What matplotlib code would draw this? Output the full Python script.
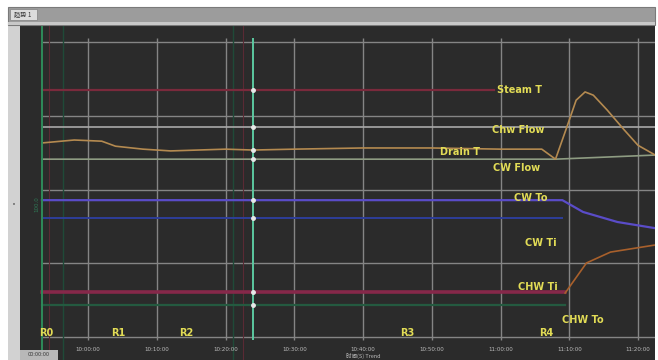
import matplotlib
matplotlib.use('Agg')
import matplotlib.pyplot as plt
from matplotlib.patches import Rectangle
import numpy as np

# time in minutes after 10:00:00, values in % of span
grid_t = [0, 10, 20, 30, 40, 50, 60, 70, 80]
time_labels = ['10:00:00', '10:10:00', '10:20:00', '10:30:00', '10:40:00',
               '10:50:00', '11:00:00', '11:10:00', '11:20:00']
grid_y = [0, 25, 50, 75, 100]

steam_t = [-6.7, 59]
steam_v = [83.7, 83.7]

chw_flow_t = [-6.7, 82.5]
chw_flow_v = [71.2, 71.2]

drain_t = [-6.7, -2, 2, 4, 8, 12, 16, 20, 24, 30, 40, 50, 60, 66,
           68, 69.5, 71, 72.3, 73.5, 75.5, 78, 80, 82.5]
drain_v = [65.8, 66.8, 66.4, 64.7, 63.7, 63.1, 63.4, 63.7, 63.4, 63.7, 64.1, 64.1, 63.7, 63.7,
           60.3, 70.2, 80.3, 83.1, 82.0, 77.0, 70.2, 65.0, 61.7]

cw_flow_t = [-6.7, 68, 82.5]
cw_flow_v = [60.3, 60.3, 61.7]

cw_to_t = [-6.7, 69, 72, 77, 82.5]
cw_to_v = [46.4, 46.4, 42.4, 39.0, 36.9]

cw_ti_t = [-6.7, 69]
cw_ti_v = [40.3, 40.3]

chw_rise_t = [69.4, 72.5, 76, 82.5]
chw_rise_v = [14.9, 25.1, 28.8, 31.2]

chw_ti_t = [-6.7, 69.4]
chw_ti_v = [15.3, 15.3]

chw_to_t = [-6.7, 69.4]
chw_to_v = [10.8, 10.8]

cursor_t = 24.0
left_cursor_t = -6.7

labels = ['Steam T', 'Chw Flow', 'Drain T', 'CW Flow', 'CW To', 'CW Ti', 'CHW Ti', 'CHW To']
label_pos = [(62.8, 83.7), (62.5, 70.2), (54.1, 62.7), (62.3, 57.3),
             (64.4, 47.1), (65.8, 31.9), (65.5, 16.9), (72.0, 5.8)]
markers = ['R0', 'R1', 'R2', 'R3', 'R4']
marker_t = [-6.0, 4.4, 14.3, 46.4, 66.6]

fig = plt.figure(figsize=(6.58, 3.6), dpi=100)
fig.patch.set_facecolor('white')

# window frame
fig.patches.append(Rectangle((8/658, 0), 12/658, 335/360, transform=fig.transFigure,
                             facecolor='#d2d2d2', edgecolor='none'))
fig.patches.append(Rectangle((8/658, 335/360), 647/658, 18/360, transform=fig.transFigure,
                             facecolor='#9c9c9c', edgecolor='#7a7a7a', lw=0.8))
fig.patches.append(Rectangle((8/658, 335/360), 647/658, 3/360, transform=fig.transFigure,
                             facecolor='#c8c8c8', edgecolor='none'))
fig.patches.append(Rectangle((10/658, 340/360), 27/658, 11/360, transform=fig.transFigure,
                             facecolor='#dcdcdc', edgecolor='#8a8a8a', lw=0.6))
fig.text(23/658, 345.5/360, '趋势 1', fontsize=4.5, color='#333333', ha='center', va='center',
         family=['Noto Sans CJK SC', 'DejaVu Sans'])
fig.text(14/658, 155/360, '•', fontsize=5, color='#707070', ha='center', va='center')

ax = fig.add_axes([20/658, 0, 635/658, 335/360])
ax.set_facecolor('#2b2b2b')
ax.set_xlim(-9.89, 82.47)
ax.set_ylim(-7.8, 105.8)
for s in ax.spines.values():
    s.set_visible(False)
ax.set_xticks([])
ax.set_yticks([])

# grid
ax.vlines(grid_t, -1.0, 101.5, color='#858585', lw=1.0, zorder=1)
ax.hlines(grid_y, left_cursor_t, 82.47, color='#858585', lw=1.0, zorder=1)

# faint extra cursors
ax.axvline(-3.6, color='#1f4a38', lw=1.0, zorder=1)
ax.axvline(-5.7, color='#5a2a34', lw=0.8, zorder=1)
ax.axvline(21.1, color='#1f4a38', lw=1.0, zorder=1)
ax.axvline(22.6, color='#5a2a34', lw=0.8, zorder=1)

# traces
ax.plot(steam_t, steam_v, color='#7a2a3c', lw=1.6, zorder=3)
ax.plot(chw_flow_t, chw_flow_v, color='#a8a8a8', lw=1.2, zorder=3)
ax.plot(cw_flow_t, cw_flow_v, color='#8e9c82', lw=1.2, zorder=3)
ax.plot(cw_to_t, cw_to_v, color='#5a4cc8', lw=1.6, zorder=3)
ax.plot(cw_ti_t, cw_ti_v, color='#2e3e9a', lw=1.4, zorder=3)
ax.plot(chw_ti_t, chw_ti_v, color='#86284a', lw=2.6, zorder=3)
ax.plot(chw_to_t, chw_to_v, color='#245a40', lw=1.6, zorder=3)
ax.plot(chw_rise_t, chw_rise_v, color='#a8602c', lw=1.2, zorder=3)
ax.plot(drain_t, drain_v, color='#b48a50', lw=1.2, zorder=4)

# cursors
ax.axvline(left_cursor_t, color='#2f8a5a', lw=1.4, zorder=5)
ax.vlines(cursor_t, -1.0, 101.5, color='#5cc8a0', lw=1.4, zorder=5)
for tt, vv in [(steam_t, steam_v), (chw_flow_t, chw_flow_v), (drain_t, drain_v),
               (cw_flow_t, cw_flow_v), (cw_to_t, cw_to_v), (cw_ti_t, cw_ti_v),
               (chw_ti_t, chw_ti_v), (chw_to_t, chw_to_v)]:
    ax.plot(cursor_t, np.interp(cursor_t, tt, vv), 'o', ms=2.5, color='#e8e8e8', zorder=6)

# labels
for lab, (x, y) in zip(labels, label_pos):
    ax.text(x, y, lab, fontsize=7, color='#e2dc56', ha='center', va='center',
            fontweight='semibold', zorder=7)
for lab, x in zip(markers, marker_t):
    ax.text(x, 1.5, lab, fontsize=7, color='#e2dc56', ha='center', va='center',
            fontweight='semibold', zorder=7)

for t, lab in zip(grid_t, time_labels):
    ax.text(t, -4.3, lab, fontsize=4, color='#bdbdbd', ha='center', va='center')
ax.text(40, -6.6, '时间(S) Trend', fontsize=4, color='#bdbdbd', ha='center', va='center',
        family=['Noto Sans CJK SC', 'DejaVu Sans'])
ax.text(-7.5, 45, '100.0', fontsize=4, color='#2e7a56', ha='center', va='center', rotation=90)

fig.patches.append(Rectangle((20/658, 0), 38/658, 10/360, transform=fig.transFigure,
                             facecolor='#b8b8b8', edgecolor='none', zorder=10))
fig.text(39/658, 5/360, '00:00:00', fontsize=3.5, color='#333333', ha='center', va='center', zorder=11)

plt.savefig('out.png', dpi=100)
